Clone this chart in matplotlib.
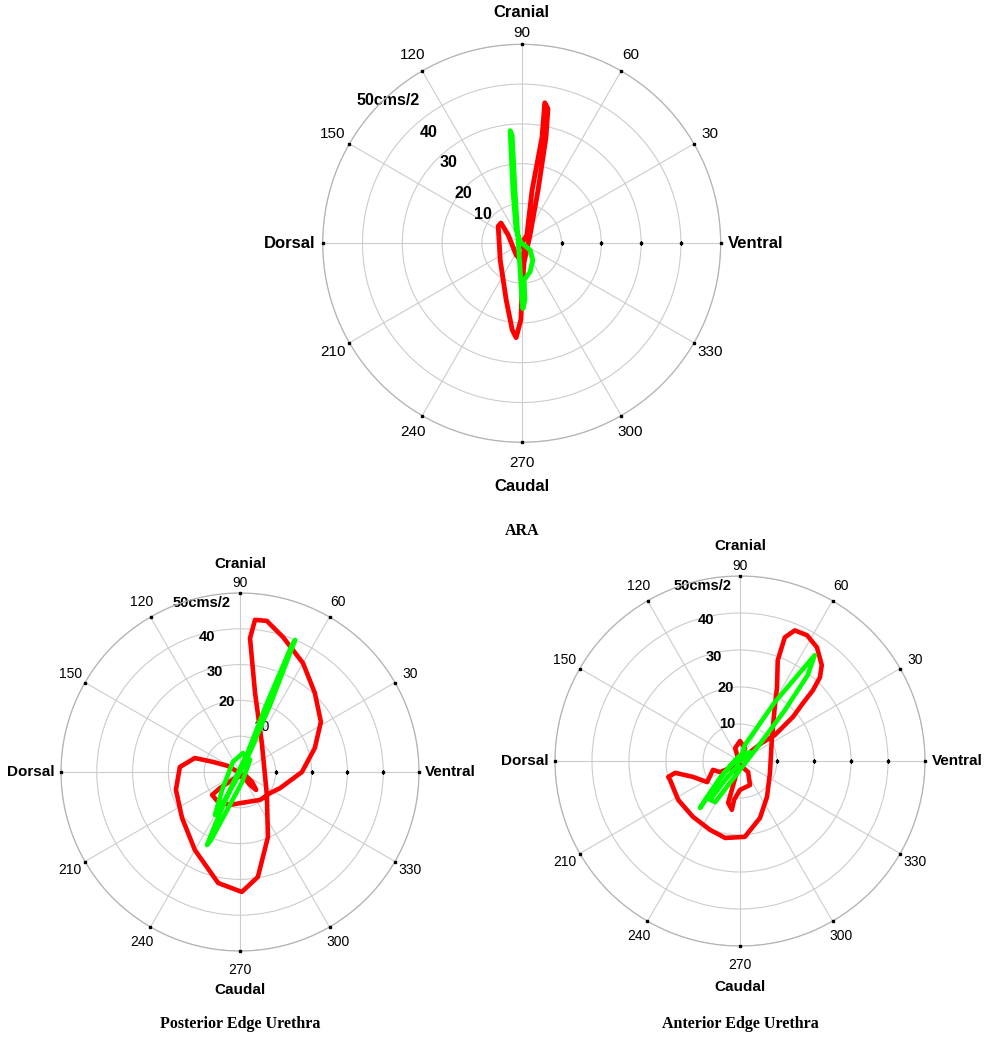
import numpy as np
import matplotlib
matplotlib.use("Agg")
import matplotlib.pyplot as plt

# ---- data: acceleration vector components (x = ventral, y = cranial), cms/2 ----
ara_red_x = [0.1, 1.3, 2.6, 5.1, 5.8, 6.6, 6.1, 4.1, 2.1, 0.6, 0.1, -0.2, -1.4, -2.4,
             -3.9, -5.4, -5.9, -5.2, -3.4, -1.4, 0.1, 0.6, 0.1]
ara_red_y = [0.1, 2.1, 13.3, 26.6, 35.3, 33.8, 26.6, 13.3, 2.1, -4.7, -11.7, -19.2, -23.7,
             -21.7, -14.2, -4.2, 4.3, 5.1, 2.1, -2.9, -4.7, -1.7, 0.1]
ara_green_x = [-0.2, -1.4, -2.2, -2.9, -2.4, -1.7, -0.9, -0.4, 0.1, 0.3, 0.8, 0.6, 2.1,
               2.8, 2.1, 0.6, -0.2]
ara_green_y = [0.1, 3.3, 13.3, 28.3, 27.1, 13.3, 0.8, -6.7, -14.2, -16.4, -14.2, -9.2,
               -7.2, -4.2, -1.7, -0.4, 0.1]

post_red_x = [0, -3.4, -7.5, -12.6, -16.8, -17.9, -16.2, -12.6, -6.1, 0.5, 5.0, 7.8, 7.5,
              6.1, 4.2, 2.8, 4.2, 7.5, 12.0, 17.6, 20.9, 22.6, 20.9, 17.3, 11.2, 8.4, 5.6,
              0, -2.8, -6.1, -7.8, -5.6, -1.4, 1.4, 3.4, 4.5, 2.8, 0]
post_red_y = [-0.3, 1.7, 2.8, 3.9, 1.4, -5.0, -12.8, -21.8, -31.0, -33.5, -29.3, -18.2,
              -6.4, 8.1, 22.1, 37.4, 42.5, 42.2, 37.7, 30.4, 22.1, 14.0, 6.7, 0, -4.5,
              -5.9, -7.8, -8.7, -9.2, -8.4, -6.4, -4.5, -1.7, -0.8, -2.8, -5.0, -3.6, -0.3]
post_green_x = [0, 2.8, 8.4, 15.4, 14.5, 7.3, 2.2, -2.2, -7.0, -9.2, -8.1, -3.9, 0.6, 2.8,
                0.8, -2.0, -5.0, -7.0, -5.6, -1.4, 0]
post_green_y = [0, 5.6, 18.7, 36.9, 35.5, 18.7, 5.6, -3.6, -14.8, -20.4, -19.0, -11.2,
                -2.8, 3.4, 5.3, 2.8, -5.0, -12.0, -10.1, -2.8, 0]

ant_red_x = [0, 2.7, 5.9, 9.4, 11.6, 14.3, 17.0, 19.7, 21.6, 22.1, 20.8, 18.1, 14.8, 12.1,
             10.2, 10.0, 9.4, 8.9, 8.6, 8.1, 7.3, 5.4, 1.3, -4.0, -8.1, -12.7, -16.7,
             -18.9, -19.4, -17.5, -12.7, -8.9, -7.3, -5.4, -2.7, 0, 1.3, 0, -1.3, 0, 2.2,
             2.7, 0, -1.6, -2.2, -3.2, -2.2, 0]
ant_red_y = [0, 2.4, 4.9, 7.0, 9.2, 11.9, 15.6, 19.1, 22.6, 25.9, 30.7, 34.0, 35.3, 33.4,
             27.2, 19.9, 14.6, 9.2, 5.7, -3.2, -9.7, -15.4, -20.5, -20.8, -18.6, -15.1,
             -10.5, -5.1, -4.3, -3.2, -4.3, -5.7, -2.4, -3.0, -1.9, 0, 3.5, 5.4, 3.5, -1.1,
             -3.0, -6.5, -7.8, -10.5, -13.2, -11.3, -7.8, 0]
ant_green_x = [0, 1.3, 9.4, 20.2, 18.3, 12.1, 6.2, 0, -6.7, -8.1, -4.0, -0.5, -1.3, -5.4,
               -10.8, -9.4, -4.9, 0, 2.7, 0]
ant_green_y = [0, 4.3, 15.9, 28.6, 23.2, 13.7, 5.7, -2.4, -11.1, -10.5, -5.1, -1.1, 0.3,
               -4.6, -12.7, -10.5, -4.0, 1.6, 2.4, 0]

r_ticks = [10, 20, 30, 40, 50]
r_labels = ["10", "20", "30", "40", "50cms/2"]
theta_ticks = [0, 30, 60, 90, 120, 150, 180, 210, 240, 270, 300, 330]
theta_labels = ["Ventral", "30", "60", "90", "120", "150", "Dorsal", "210", "240", "270",
                "300", "330"]
titles = ["ARA", "Posterior Edge Urethra", "Anterior Edge Urethra"]

RED = "#ff0000"
GREEN = "#00ff00"
GRID = "#cccccc"
SANS = ["Liberation Sans", "DejaVu Sans"]
SERIF = ["Liberation Serif", "DejaVu Serif"]

W, H = 994, 1050
fig = plt.figure(figsize=(W / 100, H / 100), dpi=100)


def polar_axes(cx, cy, R):
    return fig.add_axes([(cx - R) / W, 1 - (cy + R) / H, 2 * R / W, 2 * R / H],
                        projection="polar")


def to_polar(x, y):
    x = np.asarray(x, float)
    y = np.asarray(y, float)
    return np.unwrap(np.arctan2(y, x)), np.hypot(x, y)


def draw(ax, red, green, rlab_pos, fs_num, fs_bold, lw, label10_bold=True):
    rmax = r_ticks[-1]
    ax.set_ylim(0, rmax)
    ax.set_rticks(r_ticks)
    ax.set_yticklabels([])
    ax.set_thetagrids(theta_ticks, labels=[""] * len(theta_ticks))
    ax.tick_params(axis="both", length=0, pad=0)
    ax.grid(True, color=GRID, lw=0.8)
    ax.spines["polar"].set_color("#b4b4b4")
    ax.spines["polar"].set_linewidth(0.9)
    ax.set_facecolor("white")

    # small tick dots
    ax.plot(np.deg2rad(theta_ticks), [rmax] * len(theta_ticks), ls="none", marker="s",
            ms=1.6, color="k", clip_on=False, zorder=5)
    ax.plot([0] * (len(r_ticks) - 1), r_ticks[:-1], ls="none", marker="s", ms=1.6,
            color="k", zorder=5)

    th, r = to_polar(*red)
    ax.plot(th, r, color=RED, lw=lw, solid_joinstyle="round", solid_capstyle="round",
            zorder=3)
    th, r = to_polar(*green)
    ax.plot(th, r, color=GREEN, lw=lw, solid_joinstyle="round", solid_capstyle="round",
            zorder=4)

    # angle labels
    for ang, lab in zip(theta_ticks, theta_labels):
        t = np.deg2rad(ang)
        if ang == 0:
            ax.text(t, rmax * 1.035, lab, ha="left", va="center", fontsize=fs_bold,
                    fontweight="bold", family=SANS)
        elif ang == 180:
            ax.text(t, rmax * 1.035, lab, ha="right", va="center", fontsize=fs_bold,
                    fontweight="bold", family=SANS)
        else:
            f = 1.095
            if ang == 90:
                f = 1.055
            elif ang == 270:
                f = 1.105
            ax.text(t, rmax * f, lab, ha="center", va="center", fontsize=fs_num,
                    family=SANS)
    ax.text(np.pi / 2, rmax * 1.16, "Cranial", ha="center", va="center",
            fontsize=fs_bold, fontweight="bold", family=SANS)
    ax.text(3 * np.pi / 2, rmax * 1.22, "Caudal", ha="center", va="center",
            fontsize=fs_bold, fontweight="bold", family=SANS)

    # radial labels
    for i, ((px, py), lab) in enumerate(zip(rlab_pos, r_labels)):
        bold = label10_bold or i > 0
        ax.text(np.arctan2(py, px), np.hypot(px, py), lab, ha="center", va="center",
                fontsize=fs_bold - 0.5 if bold else fs_num, fontweight="bold" if bold else "normal",
                family=SANS, zorder=2)


ax1 = polar_axes(521.7, 243.3, 199)
draw(ax1, (ara_red_x, ara_red_y), (ara_green_x, ara_green_y),
     [(-9.75, 7.25), (-14.75, 12.5), (-18.5, 20.25), (-23.25, 27.75), (-33.5, 36.0)],
     11, 12, 3.5)

ax2 = polar_axes(240, 772, 179)
draw(ax2, (post_red_x, post_red_y), (post_green_x, post_green_y),
     [(6.1, 12.6), (-3.6, 19.6), (-7.0, 27.9), (-9.2, 37.7), (-10.6, 47.2)],
     10, 11, 3.3, label10_bold=False)

ax3 = polar_axes(740, 761, 185)
draw(ax3, (ant_red_x, ant_red_y), (ant_green_x, ant_green_y),
     [(-3.5, 10.0), (-3.8, 19.7), (-7.0, 28.0), (-9.2, 38.0), (-10.2, 47.2)],
     10, 11, 3.3)

for (tx, ty), t in zip([(522, 531), (240, 1024), (740, 1024)], titles):
    fig.text(tx / W, 1 - ty / H, t, ha="center", va="center", fontsize=11.5,
             fontweight="bold", family=SERIF)

fig.savefig("out.png", dpi=100, facecolor="white")
